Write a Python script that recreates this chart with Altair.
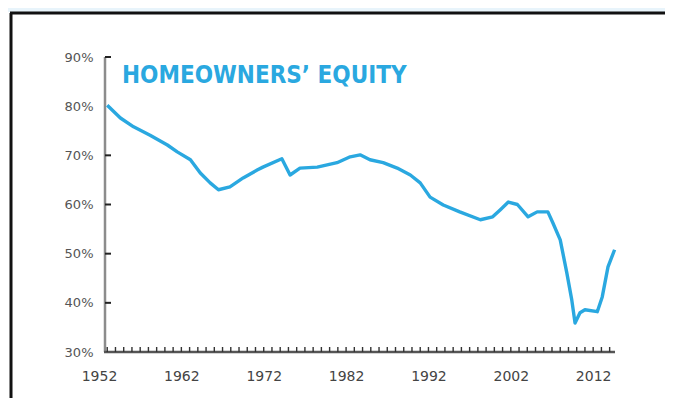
import altair as alt
import pandas as pd

years = [1953.0, 1954.6, 1956.2, 1958.2, 1960.3, 1961.5, 1963.1, 1964.3, 1965.5,
         1966.5, 1967.9, 1969.5, 1971.2, 1971.9, 1974.2, 1975.2, 1976.4, 1978.5,
         1980.9, 1982.5, 1983.7, 1984.9, 1986.5, 1988.2, 1989.8, 1991.0, 1992.2,
         1993.8, 1995.8, 1998.3, 1999.8, 2000.7, 2001.7, 2002.8, 2004.1, 2005.2,
         2006.5, 2007.1, 2008.0, 2008.8, 2009.4, 2009.8, 2010.4, 2011.0, 2012.5,
         2013.1, 2013.8, 2014.6]
equity = [80.2, 77.6, 75.8, 74.1, 72.1, 70.7, 69.1, 66.4, 64.4,
          63.0, 63.6, 65.4, 67.0, 67.6, 69.3, 66.0, 67.4, 67.6,
          68.5, 69.7, 70.1, 69.1, 68.5, 67.4, 66.0, 64.4, 61.5,
          59.9, 58.5, 56.9, 57.5, 58.9, 60.5, 60.0, 57.5, 58.5,
          58.5, 56.3, 52.8, 46.1, 40.6, 35.9, 38.0, 38.6, 38.2,
          41.2, 47.3, 50.8]

x_labels = [1952, 1962, 1972, 1982, 1992, 2002, 2012]
y_labels = [30, 40, 50, 60, 70, 80, 90]
y_ticks = [40, 50, 60, 70, 90]
x_ticks = list(range(1953, 2015))
title_text = "HOMEOWNERS\u2019 EQUITY"

BLUE = "#2aa8e0"
W, H = 516, 295
AX = 6  # pixel position of the vertical axis line inside the plot

x_scale = alt.Scale(domain=[1952, 2014.65], nice=False, zero=False)
y_scale = alt.Scale(domain=[30, 90], nice=False, zero=False)

x_axis = alt.Axis(values=x_labels, format="d", title=None, grid=False, ticks=False,
                  domain=False, labelPadding=17, labelFlush=False, labelOverlap=False,
                  labelBound=False, labelFont="DejaVu Sans", labelFontSize=14,
                  labelColor="#444")
y_axis = alt.Axis(values=y_labels, labelExpr="datum.value + '%'", title=None, grid=False,
                  ticks=False, domain=False, labelPadding=6, labelFont="DejaVu Sans",
                  labelFontSize=13, labelColor="#555")

X = lambda f: alt.X(f"{f}:Q", scale=x_scale, axis=x_axis)
Y = lambda f: alt.Y(f"{f}:Q", scale=y_scale, axis=y_axis)

df = pd.DataFrame({"year": years, "equity": equity})

line = alt.Chart(df).mark_line(color=BLUE, strokeWidth=3.4, strokeJoin="round").encode(
    x=X("year"), y=Y("equity"))

xt = alt.Chart(pd.DataFrame({"year": x_ticks})).mark_rule(color="#333", strokeWidth=1.4).encode(
    x=X("year"), y=alt.value(H), y2=alt.value(H - 5))

yt = alt.Chart(pd.DataFrame({"equity": y_ticks})).mark_rule(color="#222", strokeWidth=2).encode(
    y=Y("equity"), x=alt.value(AX), x2=alt.value(AX + 6))

dummy = pd.DataFrame({"a": [0]})
y_line = alt.Chart(dummy).mark_rule(color="#8c8c8c", strokeWidth=2.5).encode(
    x=alt.value(AX), y=alt.value(0), y2=alt.value(H))
x_line = alt.Chart(dummy).mark_rule(color="#555", strokeWidth=2.5).encode(
    x=alt.value(AX - 1), x2=alt.value(W), y=alt.value(H))
band = alt.Chart(dummy).mark_rect(color="#e8f4fb").encode(
    x=alt.value(-91), x2=alt.value(570), y=alt.value(-49), y2=alt.value(-45))
top_border = alt.Chart(dummy).mark_rule(color="#111", strokeWidth=3).encode(
    x=alt.value(-89), x2=alt.value(570), y=alt.value(-44))
left_border = alt.Chart(dummy).mark_rule(color="#111", strokeWidth=3).encode(
    x=alt.value(-88), y=alt.value(-44), y2=alt.value(341))

title = alt.Chart(dummy).mark_text(
    text=title_text, align="left", baseline="alphabetic",
    font="DejaVu Sans Condensed, sans-serif",
    fontSize=24, fontWeight="bold", color=BLUE).encode(x=alt.value(23), y=alt.value(26))

chart = alt.layer(band, top_border, left_border, y_line, x_line, xt, yt, line, title).properties(
    width=W, height=H,
    autosize=alt.AutoSizeParams(type="none"),
    padding={"left": 91, "top": 49, "right": 50, "bottom": 46},
    background="white",
).configure_view(stroke=None)

chart.save("out.html", embed_options={"renderer": "svg", "actions": False})
